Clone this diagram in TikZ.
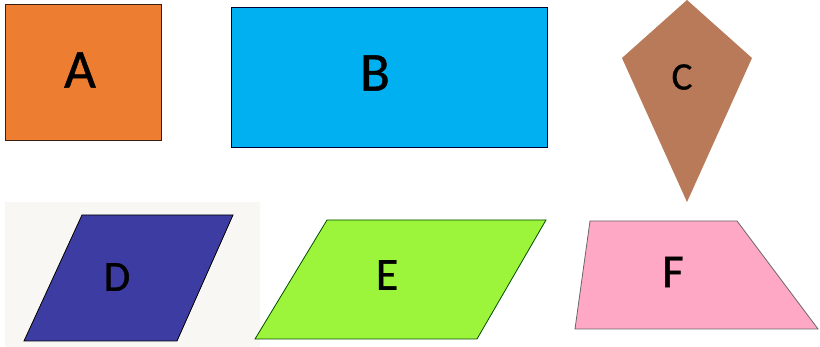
\documentclass[tikz,border=0pt]{standalone}
\usepackage{fontspec}
\setmainfont[FakeBold=0.8]{Carlito}
\definecolor{cA}{HTML}{ED7D31}
\definecolor{cB}{HTML}{00B0F0}
\definecolor{cC}{HTML}{B87A58}
\definecolor{cD}{HTML}{3C3CA2}
\definecolor{cE}{HTML}{9CF53A}
\definecolor{cF}{HTML}{FFA8C5}
\definecolor{paper}{HTML}{F8F7F3}
\tikzset{
  lbl/.style={inner sep=0pt, text=black},
  shapeline/.style={line width=0.8pt, line join=miter}
}
\begin{document}
\begin{tikzpicture}[x=1pt,y=-1pt]
\useasboundingbox (0,0) rectangle (820,347);
\fill[white] (0,0) rectangle (820,347);
% A
\draw[shapeline, fill=cA, draw=black!75!cA] (5,4) rectangle (161,140);
\node[lbl, font=\fontsize{55}{55}\selectfont] (la) at (80,70) {A};
% B
\draw[shapeline, fill=cB, draw=black!80!blue] (231,7) rectangle (547,147);
\node[lbl, font=\fontsize{55}{55}\selectfont] (lb) at (375,73) {B};
% C
\fill[cC] (687,0) -- (752,58) -- (687,202) -- (622,58) -- cycle;
\node[lbl, font=\fontsize{39}{39}\selectfont] (lc) at (682,77) {C};
% D
\fill[paper] (5,202) rectangle (260,347);
\draw[shapeline, fill=cD, draw=black] (82,215) -- (233,215) -- (177,341) -- (24,341) -- cycle;
\node[lbl, font=\fontsize{43}{43}\selectfont] (ld) at (117,277) {D};
% E
\draw[shapeline, fill=cE, draw=black!70!green] (327,220) -- (546,220) -- (477,339) -- (255,339) -- cycle;
\node[lbl, font=\fontsize{46}{46}\selectfont] (le) at (387,275) {E};
% F
\draw[shapeline, fill=cF, draw=black!60] (590,221) -- (737,221) -- (818,329) -- (575,329) -- cycle;
\node[lbl, font=\fontsize{47}{47}\selectfont] (lf) at (673,272) {F};
\end{tikzpicture}
\end{document}
